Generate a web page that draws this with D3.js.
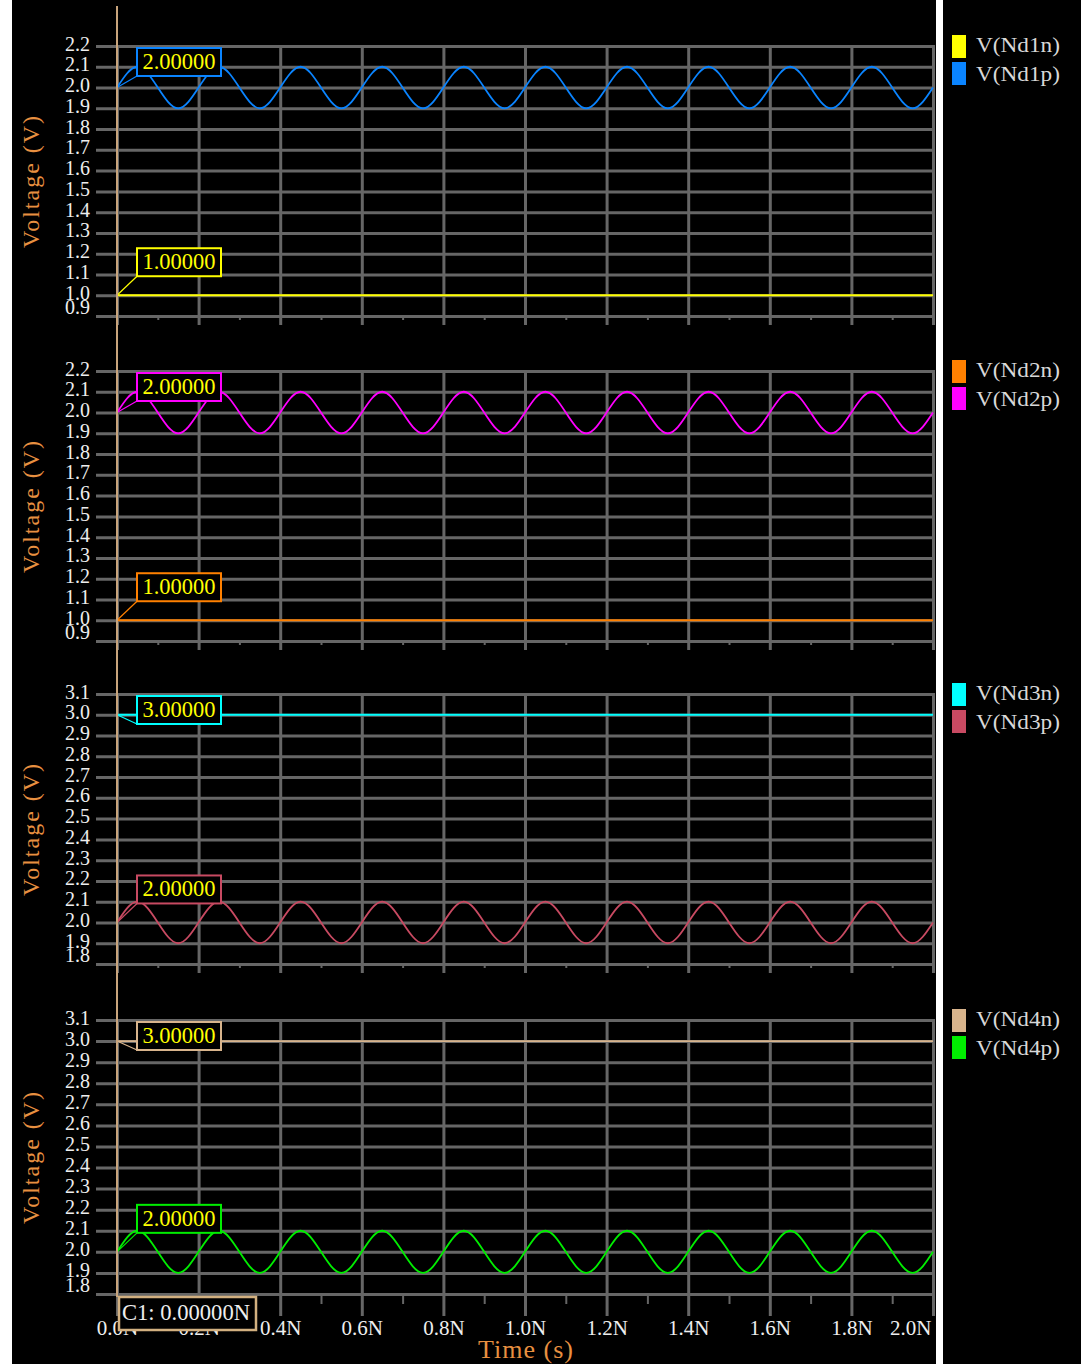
<!DOCTYPE html>
<html>
<head>
<meta charset="utf-8">
<script src="https://cdn.jsdelivr.net/npm/d3@7"></script>
<style>
  html, body { margin: 0; padding: 0; background: #fff; }
  svg { display: block; }
</style>
</head>
<body>
<div id="chart"></div>
<script>
// ---- data ----
// sample times in ns
const timeNs = [0.00, 0.05, 0.10, 0.15, 0.20, 0.25, 0.30, 0.35, 0.40, 0.45,
  0.50, 0.55, 0.60, 0.65, 0.70, 0.75, 0.80, 0.85, 0.90, 0.95,
  1.00, 1.05, 1.10, 1.15, 1.20, 1.25, 1.30, 1.35, 1.40, 1.45,
  1.50, 1.55, 1.60, 1.65, 1.70, 1.75, 1.80, 1.85, 1.90, 1.95, 2.00];
const flatTimeNs = [0.0, 2.0];

const vNd1n = [1.0, 1.0];
const vNd1p = [2.0, 2.1, 2.0, 1.9, 2.0, 2.1, 2.0, 1.9, 2.0, 2.1, 2.0, 1.9, 2.0, 2.1, 2.0, 1.9,
  2.0, 2.1, 2.0, 1.9, 2.0, 2.1, 2.0, 1.9, 2.0, 2.1, 2.0, 1.9, 2.0, 2.1, 2.0, 1.9,
  2.0, 2.1, 2.0, 1.9, 2.0, 2.1, 2.0, 1.9, 2.0];
const vNd2n = [1.0, 1.0];
const vNd2p = [2.0, 2.1, 2.0, 1.9, 2.0, 2.1, 2.0, 1.9, 2.0, 2.1, 2.0, 1.9, 2.0, 2.1, 2.0, 1.9,
  2.0, 2.1, 2.0, 1.9, 2.0, 2.1, 2.0, 1.9, 2.0, 2.1, 2.0, 1.9, 2.0, 2.1, 2.0, 1.9,
  2.0, 2.1, 2.0, 1.9, 2.0, 2.1, 2.0, 1.9, 2.0];
const vNd3n = [3.0, 3.0];
const vNd3p = [2.0, 2.1, 2.0, 1.9, 2.0, 2.1, 2.0, 1.9, 2.0, 2.1, 2.0, 1.9, 2.0, 2.1, 2.0, 1.9,
  2.0, 2.1, 2.0, 1.9, 2.0, 2.1, 2.0, 1.9, 2.0, 2.1, 2.0, 1.9, 2.0, 2.1, 2.0, 1.9,
  2.0, 2.1, 2.0, 1.9, 2.0, 2.1, 2.0, 1.9, 2.0];
const vNd4n = [3.0, 3.0];
const vNd4p = [2.0, 2.1, 2.0, 1.9, 2.0, 2.1, 2.0, 1.9, 2.0, 2.1, 2.0, 1.9, 2.0, 2.1, 2.0, 1.9,
  2.0, 2.1, 2.0, 1.9, 2.0, 2.1, 2.0, 1.9, 2.0, 2.1, 2.0, 1.9, 2.0, 2.1, 2.0, 1.9,
  2.0, 2.1, 2.0, 1.9, 2.0, 2.1, 2.0, 1.9, 2.0];

const seriesNames = [["V(Nd1n)", "V(Nd1p)"], ["V(Nd2n)", "V(Nd2p)"],
  ["V(Nd3n)", "V(Nd3p)"], ["V(Nd4n)", "V(Nd4p)"]];
const seriesValues = [[vNd1n, vNd1p], [vNd2n, vNd2p], [vNd3n, vNd3p], [vNd4n, vNd4p]];

const yDomains = [[0.9, 2.2], [0.9, 2.2], [1.8, 3.1], [1.8, 3.1]];
const yTicksLow = [0.9, 1.0, 1.1, 1.2, 1.3, 1.4, 1.5, 1.6, 1.7, 1.8, 1.9, 2.0, 2.1, 2.2];
const yTicksHigh = [1.8, 1.9, 2.0, 2.1, 2.2, 2.3, 2.4, 2.5, 2.6, 2.7, 2.8, 2.9, 3.0, 3.1];
const yTickSets = [yTicksLow, yTicksLow, yTicksHigh, yTicksHigh];

const xTicks = [0.0, 0.2, 0.4, 0.6, 0.8, 1.0, 1.2, 1.4, 1.6, 1.8, 2.0];
const xMinorTicks = [0.1, 0.3, 0.5, 0.7, 0.9, 1.1, 1.3, 1.5, 1.7, 1.9];
const xTickLabels = ["0.0N", "0.2N", "0.4N", "0.6N", "0.8N", "1.0N", "1.2N", "1.4N", "1.6N", "1.8N", "2.0N"];
const cursorTime = 0.0;

// ---- styles / layout ----
const colors = [["#ffff00", "#0a84ff"], ["#ff8000", "#ff00ff"],
  ["#00ffff", "#c84a62"], ["#d8b48c", "#00ee00"]];
const W = 1081, H = 1364;
const panelTop = [46, 371, 694, 1020];
const panelBottom = [316, 641, 964, 1294];
const gridColor = '#666';
const serif = "'Liberation Serif', 'Times New Roman', serif";
const orange = '#e89040';

const svg = d3.select('#chart').append('svg')
  .attr('width', W).attr('height', H);

svg.append('rect').attr('width', W).attr('height', H).attr('fill', '#fff');
svg.append('rect').attr('x', 12).attr('width', W - 12).attr('height', H).attr('fill', '#000');
svg.append('rect').attr('x', 936).attr('width', 7).attr('height', H).attr('fill', '#fff');

const x = d3.scaleLinear().domain([0, 2.0]).range([117, 933]);

panelTop.forEach((top, i) => {
  const bot = panelBottom[i];
  const isLast = i === panelTop.length - 1;
  const y = d3.scaleLinear().domain(yDomains[i]).range([bot, top]);
  const g = svg.append('g');

  // horizontal gridlines + y labels
  const ya = g.append('g')
    .attr('transform', 'translate(96,0)')
    .call(d3.axisLeft(y).tickValues(yTickSets[i]).tickSize(-839).tickPadding(6)
      .tickFormat(d3.format('.1f')));
  ya.select('.domain').remove();
  ya.selectAll('line').attr('stroke', gridColor).attr('stroke-width', 3);
  ya.selectAll('text')
    .attr('fill', '#eee')
    .attr('dy', null)
    .attr('y', d => (d === yDomains[i][0] ? -3 : 4))
    .style('font-family', serif)
    .style('font-size', '20px');

  // vertical gridlines
  const xg = g.append('g')
    .attr('transform', `translate(0,${bot})`)
    .call(d3.axisBottom(x).tickValues(xTicks).tickSize(-(bot - top)).tickFormat(''));
  xg.select('.domain').remove();
  xg.selectAll('line').attr('stroke', gridColor).attr('stroke-width', 3);

  // ticks hanging below the panel
  const xa = g.append('g')
    .attr('transform', `translate(0,${bot})`)
    .call(d3.axisBottom(x).tickValues(xTicks).tickSize(isLast ? 22 : 9).tickPadding(4)
      .tickFormat((d, k) => (isLast ? xTickLabels[k] : '')));
  xa.select('.domain').remove();
  xa.selectAll('line').attr('stroke', gridColor).attr('stroke-width', 3);
  xa.selectAll('text')
    .attr('fill', '#eee')
    .style('font-family', serif)
    .style('font-size', '21px');
  xa.selectAll('.tick').filter((d, k) => k === xTicks.length - 1)
    .select('text').attr('text-anchor', 'end').attr('x', -2);

  const xm = g.append('g')
    .attr('transform', `translate(0,${bot})`)
    .call(d3.axisBottom(x).tickValues(xMinorTicks).tickSize(isLast ? 10 : 4).tickFormat(''));
  xm.select('.domain').remove();
  xm.selectAll('line').attr('stroke', gridColor).attr('stroke-width', 2);

  // series
  seriesValues[i].forEach((vals, s) => {
    const ts = vals.length === flatTimeNs.length ? flatTimeNs : timeNs;
    const pts = vals.map((v, k) => [ts[k], v]);
    const line = d3.line()
      .x(d => x(d[0]))
      .y(d => y(d[1]))
      .curve(d3.curveNatural);
    g.append('path')
      .datum(pts)
      .attr('fill', 'none')
      .attr('stroke', colors[i][s])
      .attr('stroke-width', 1.8)
      .attr('d', line);
  });

  // value boxes at cursor
  seriesValues[i].forEach((vals, s) => {
    const vy = y(vals[0]);
    const bx = 137, bw = 84, bh = 28;
    const by = Math.max(top + 2, vy - 47);
    g.append('line')
      .attr('x1', x(cursorTime)).attr('y1', vy)
      .attr('x2', bx).attr('y2', by + bh)
      .attr('stroke', colors[i][s]).attr('stroke-width', 1.2);
    g.append('rect')
      .attr('x', bx).attr('y', by).attr('width', bw).attr('height', bh)
      .attr('fill', '#000').attr('stroke', colors[i][s]).attr('stroke-width', 2);
    g.append('text')
      .attr('x', bx + bw / 2).attr('y', by + 21)
      .attr('text-anchor', 'middle')
      .attr('fill', '#ffff00')
      .attr('textLength', 73).attr('lengthAdjust', 'spacingAndGlyphs')
      .style('font-family', serif).style('font-size', '23px')
      .text(d3.format('.5f')(vals[0]));
  });

  // legend
  seriesNames[i].forEach((name, s) => {
    g.append('rect')
      .attr('x', 952).attr('y', top - 11 + s * 27)
      .attr('width', 14).attr('height', 23)
      .attr('fill', colors[i][s]);
    g.append('text')
      .attr('x', 976).attr('y', top + 6 + s * 29)
      .attr('fill', '#d8d8d8')
      .attr('textLength', 84).attr('lengthAdjust', 'spacingAndGlyphs')
      .style('font-family', serif).style('font-size', '22px')
      .text(name);
  });

  // y title
  g.append('text')
    .attr('transform', `translate(39,${(top + bot) / 2}) rotate(-90)`)
    .attr('text-anchor', 'middle')
    .attr('fill', orange)
    .style('font-family', serif).style('font-size', '24px')
    .style('letter-spacing', '2px')
    .text('Voltage (V)');
});

// cursor C1
svg.append('line')
  .attr('x1', x(cursorTime)).attr('x2', x(cursorTime))
  .attr('y1', 6).attr('y2', 1297)
  .attr('stroke', '#c8a47c').attr('stroke-width', 2);
svg.append('rect')
  .attr('x', 119).attr('y', 1297).attr('width', 137).attr('height', 33)
  .attr('fill', '#000').attr('stroke', '#d2b080').attr('stroke-width', 2.5);
svg.append('text')
  .attr('x', 122).attr('y', 1320)
  .attr('fill', '#eee')
  .attr('textLength', 128).attr('lengthAdjust', 'spacingAndGlyphs')
  .style('font-family', serif).style('font-size', '23px')
  .text('C1: ' + d3.format('.5f')(cursorTime) + 'N');

// x title
svg.append('text')
  .attr('x', 526).attr('y', 1358)
  .attr('text-anchor', 'middle')
  .attr('fill', orange)
  .style('font-family', serif).style('font-size', '26px')
  .style('letter-spacing', '1px')
  .text('Time (s)');
</script>
</body>
</html>
